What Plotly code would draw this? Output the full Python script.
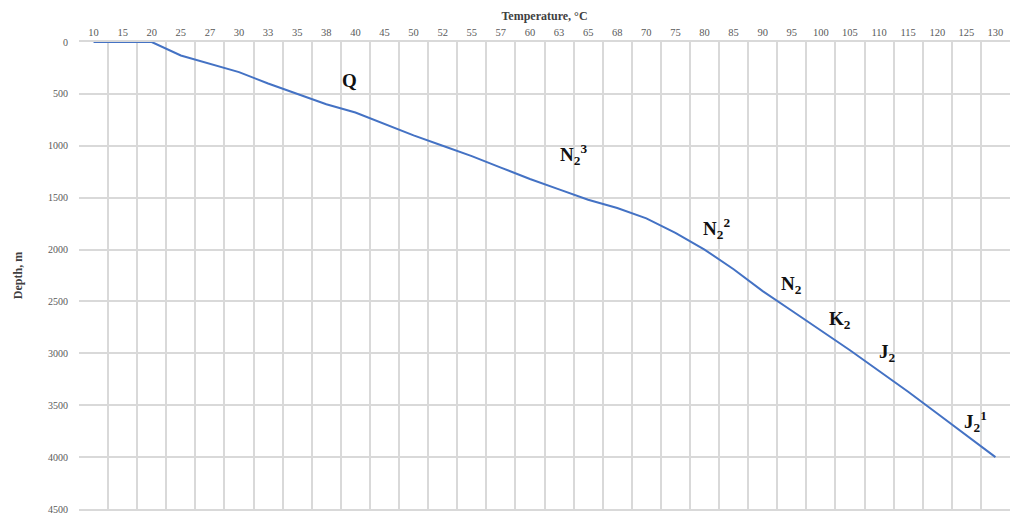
import plotly.graph_objects as go

temps = ["10", "15", "20", "25", "27", "30", "33", "35", "38", "40", "45", "50", "52", "55", "57",
         "60", "63", "65", "68", "70", "75", "80", "85", "90", "95", "100", "105", "110", "115",
         "120", "125", "130"]
depths = [0, 0, 0, 130, 210, 290, 400, 500, 600, 680, 790, 900, 1000, 1100, 1210, 1320, 1420,
          1520, 1600, 1700, 1840, 2000, 2190, 2400, 2590, 2780, 2970, 3170, 3370, 3580, 3790, 4000]

label_texts = ["Q", "N<sub>2</sub><sup>3</sup>", "N<sub>2</sub><sup>2</sup>", "N<sub>2</sub>",
               "K<sub>2</sub>", "J<sub>2</sub>", "J<sub>2</sub><sup>1</sup>"]
label_x = [8.8, 16.5, 21.4, 24.0, 25.65, 27.3, 30.3]
label_y = [370, 1085, 1800, 2345, 2680, 2995, 3660]

fig = go.Figure()
fig.add_trace(go.Scatter(x=temps, y=depths, mode="lines",
                         line=dict(color="#4472C4", width=2), showlegend=False))

for t, x, y in zip(label_texts, label_x, label_y):
    fig.add_annotation(x=x, y=y, text="<b>" + t + "</b>", showarrow=False,
                       font=dict(family="Liberation Serif", size=19, color="#111111"))

fig.update_layout(
    width=1011, height=515,
    margin=dict(l=79, r=1, t=42, b=6, autoexpand=False),
    paper_bgcolor="white", plot_bgcolor="white",
    font=dict(family="Liberation Serif", color="#595959"),
    xaxis=dict(type="category", side="top", range=[-0.5, 31.5], automargin=False,
               tickson="boundaries", showgrid=True, gridcolor="#d9d9d9", gridwidth=1.5,
               ticks="", tickfont=dict(size=10.5, color="#595959"),
               showline=True, linecolor="#d9d9d9", linewidth=1.5, mirror=True,
               title=dict(text="<b>Temperature, °C</b>", standoff=4,
                          font=dict(size=12, color="#404040"))),
    yaxis=dict(range=[4500, 0], tickvals=list(range(0, 4501, 500)),
               showgrid=True, gridcolor="#d9d9d9", gridwidth=1.5,
               automargin=False, ticklabeloverflow="allow",
               zeroline=False, ticks="", tickfont=dict(size=10, color="#595959"),
               ticklabelstandoff=10,
               title=dict(text="<b>Depth, m</b>", standoff=22,
                          font=dict(size=12, color="#404040"))),
)

fig.write_html("out.html", config={"responsive": False, "displayModeBar": False},
               post_script="document.body.style.margin='0px';document.body.style.overflow='hidden';")
